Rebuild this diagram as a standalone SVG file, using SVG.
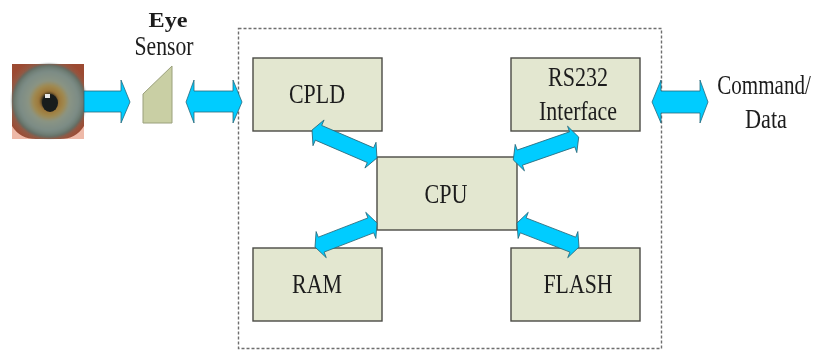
<svg xmlns="http://www.w3.org/2000/svg" width="814" height="350" viewBox="0 0 814 350">
<style>
.box{fill:#e3e7d0;stroke:#4a4a45;stroke-width:1.4}
.t{font-family:"Liberation Serif","Times New Roman",serif;font-size:27px;fill:#1c1c1c;text-anchor:middle;filter:url(#tb)}
.e{font-size:21px;font-weight:bold}
.arr{fill:#00ccff;stroke:#2a6a7c;stroke-width:.8;stroke-linejoin:miter}
</style>
<defs>
<radialGradient id="iris" cx="50%" cy="50%" r="50%">
<stop offset="0" stop-color="#1a1a1a"/><stop offset=".2" stop-color="#2a2a22"/><stop offset=".25" stop-color="#9c7436"/><stop offset=".42" stop-color="#a08a50"/><stop offset=".55" stop-color="#8a9484"/><stop offset=".8" stop-color="#7c8c86"/><stop offset=".93" stop-color="#6c7a70"/><stop offset="1" stop-color="#55605a"/>
</radialGradient>
<radialGradient id="skin" cx="50%" cy="50%" r="60%">
<stop offset=".7" stop-color="#8a6a58"/><stop offset="1" stop-color="#9c4a32"/>
</radialGradient>
<polygon id="dbl" class="arr" points="-35,0 -28,-14 -28,-8 28,-8 28,-14 35,0 28,14 28,8 -28,8 -28,14"/>
<filter id="soft" x="-5%" y="-5%" width="110%" height="110%"><feGaussianBlur stdDeviation="1.200"/></filter>
<filter id="tb" x="-5%" y="-10%" width="110%" height="120%"><feGaussianBlur stdDeviation=".35"/></filter>
</defs>
<g id="eye">
<rect x="12" y="64" width="72" height="75" fill="url(#skin)"/>
<path d="M12 126Q20 139 36 139H12ZM84 126Q76 139 60 139H84Z" fill="#eeb9a8"/>
<circle cx="49" cy="101" r="37" fill="url(#iris)" filter="url(#soft)"/>
<ellipse cx="50" cy="103" rx="8" ry="9" fill="#181c1c"/>
<rect x="45" y="94" width="5" height="4" fill="#e8e8e8"/>
</g>
<g id="sensor">
<polygon points="143,94 172,66 172,123 143,123" fill="#c9cfa4" stroke="#9aa07c" stroke-width="1"/>
<text class="t e" x="168" y="27" textLength="39" lengthAdjust="spacingAndGlyphs">Eye</text>
<text class="t" x="164" y="55" textLength="59" lengthAdjust="spacingAndGlyphs">Sensor</text>
</g>
<g id="boundary">
<rect x="238.500" y="28.500" width="423" height="320" fill="none" stroke="#6e6e6e" stroke-width="1.400" stroke-dasharray="3 2"/>
</g>
<g id="cpld"><rect class="box" x="253" y="58" width="129" height="73"/><text class="t" x="317" y="103" textLength="56" lengthAdjust="spacingAndGlyphs">CPLD</text></g>
<g id="rs232"><rect class="box" x="511" y="58" width="129" height="73"/><text class="t" x="578" y="86" textLength="60" lengthAdjust="spacingAndGlyphs">RS232</text><text class="t" x="578" y="120" textLength="78" lengthAdjust="spacingAndGlyphs">Interface</text></g>
<g id="cpu"><rect class="box" x="377" y="157" width="140" height="73"/><text class="t" x="446" y="203" textLength="43" lengthAdjust="spacingAndGlyphs">CPU</text></g>
<g id="ram"><rect class="box" x="253" y="248" width="129" height="73"/><text class="t" x="317" y="293" textLength="50" lengthAdjust="spacingAndGlyphs">RAM</text></g>
<g id="flash"><rect class="box" x="511" y="248" width="129" height="73"/><text class="t" x="578" y="293" textLength="69" lengthAdjust="spacingAndGlyphs">FLASH</text></g>
<g id="command"><text class="t" transform="translate(764 94) scale(.78 1)">Command/</text><text class="t" x="766" y="128" textLength="42" lengthAdjust="spacingAndGlyphs">Data</text></g>
<g id="connectors">
<polygon class="arr" points="84,91 121,91 121,80 130,102 121,123 121,112 84,112" stroke="none"/>
<polygon class="arr" points="186,102 194,80 194,91 233,91 233,80 242,102 233,123 233,112 194,112 194,123"/>
<polygon class="arr" points="652,102 661,80 661,91 700,91 700,80 708,102 700,123 700,113 661,113 661,123"/>
<use href="#dbl" transform="translate(344.500 144) rotate(23.300) scale(1.010 1)"/>
<use href="#dbl" transform="translate(546 148.500) rotate(-19.200) scale(.99 1)"/>
<use href="#dbl" transform="translate(346 235) rotate(-21.200) scale(.95 1)"/>
<use href="#dbl" transform="translate(548 235) rotate(21.200) scale(.95 1)"/>
</g>
</svg>
